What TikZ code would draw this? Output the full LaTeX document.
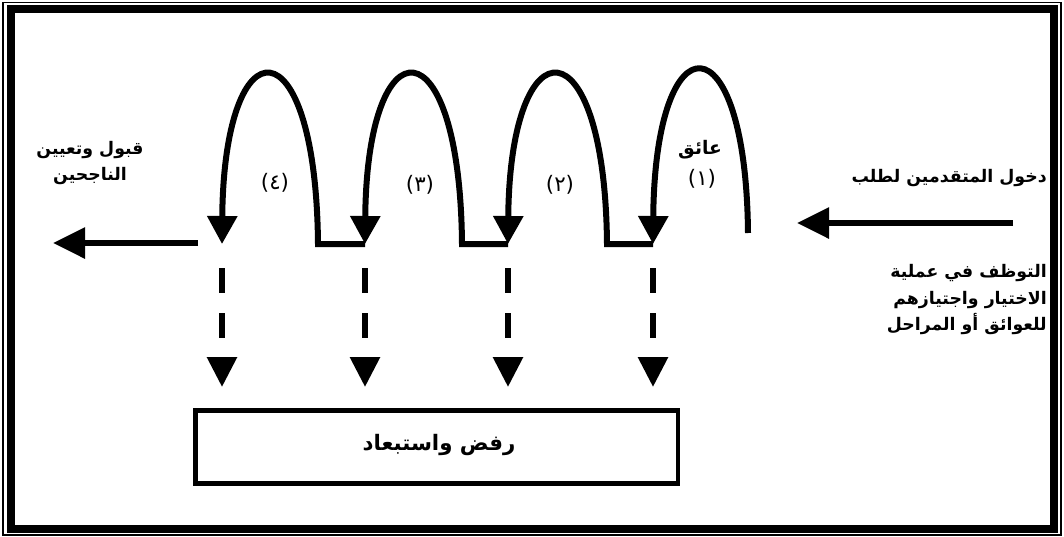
\documentclass[tikz,border=0pt]{standalone}
\usepackage{fontspec}
\usetikzlibrary{arrows.meta}
\TeXXeTstate=1
\newfontfamily\arabicfont[Script=Arabic]{DejaVu Sans}
\begin{document}
\begin{tikzpicture}[x=0.75pt,y=-0.75pt,
  heavy/.style={line width=4.5pt, line join=miter},
  archtip/.style={-{Triangle[width=21.75pt,length=21pt]}},
  bigtip/.style={-{Triangle[width=22.5pt,length=24pt]}},
  droptip/.style={-{Triangle[width=21.75pt,length=22.5pt]}},
  dropline/.style={heavy, dash pattern=on 18.75pt off 15pt, droptip},
  atext/.style={font=\arabicfont\bfseries\fontsize{13}{20}\selectfont, inner sep=0pt},
  numtext/.style={font=\arabicfont\fontsize{16}{18}\selectfont, inner sep=0pt},
  boxstyle/.style={draw, line width=3.5pt, minimum width=362pt, minimum height=55pt, inner sep=0pt}
]
\useasboundingbox (0,0) rectangle (1064,536);
% frame
\draw[line width=1.1pt] (3,2.5) rectangle (1061,535);
\draw[line width=6pt] (10.5,9) rectangle (1053.5,528.5);

% coordinates of the arches
\coordinate (r1) at (748,233);
\coordinate (t1) at (653,244);
\coordinate (r2) at (607,244);
\coordinate (t2) at (508,244);
\coordinate (r3) at (462,244);
\coordinate (t3) at (365,244);
\coordinate (r4) at (318,244);
\coordinate (t4) at (222,244);

% arches
\draw[heavy,archtip] (r1) .. controls (746,16) and (655,16) .. (t1);
\draw[heavy,archtip] (t1) -- (r2) .. controls (605,20) and (510,20) .. (t2);
\draw[heavy,archtip] (t2) -- (r3) .. controls (460,20) and (367,20) .. (t3);
\draw[heavy,archtip] (t3) -- (r4) .. controls (316,20) and (224,20) .. (t4);

% entry and exit arrows
\coordinate (ins) at (1013,223);
\coordinate (ine) at (797,223);
\draw[heavy,bigtip] (ins) -- (ine);
\coordinate (outs) at (198,243);
\coordinate (oute) at (53,243);
\draw[heavy,bigtip] (outs) -- (oute);

% reject box
\node[boxstyle] (reject) at (436.5,447) {};
\node[atext, font=\arabicfont\bfseries\fontsize{16}{20}\selectfont] (rejecttext) at (439,445) {\beginR رفض واستبعاد\endR};

% dashed drops
\coordinate (d1s) at (653,268); \coordinate (d1e) at (653,387);
\coordinate (d2s) at (508,268); \coordinate (d2e) at (508,387);
\coordinate (d3s) at (365,268); \coordinate (d3e) at (365,387);
\coordinate (d4s) at (222,268); \coordinate (d4e) at (222,387);
\draw[dropline] (d1s) -- (d1e);
\draw[dropline] (d2s) -- (d2e);
\draw[dropline] (d3s) -- (d3e);
\draw[dropline] (d4s) -- (d4e);

% labels
\node[atext, font=\arabicfont\bfseries\fontsize{14}{20}\selectfont] (obst) at (700,150) {\beginR عائق\endR};
\node[numtext] (n1) at (702,179) {(١)};
\node[numtext] (n2) at (560,185) {(٢)};
\node[numtext] (n3) at (420,185) {(٣)};
\node[numtext] (n4) at (275,183) {(٤)};

\node[atext, anchor=east] (entry) at (1047,178) {\beginR دخول المتقدمين لطلب\endR};
\node[atext, anchor=north east, align=right] (process) at (1047,264)
  {\beginR التوظف في عملية\endR\\\beginR الاختيار واجتيازهم\endR\\\beginR للعوائق أو المراحل\endR};
\node[atext, align=center] (accept) at (90,163)
  {\beginR قبول وتعيين\endR\\\beginR الناجحين\endR};
\end{tikzpicture}
\end{document}
